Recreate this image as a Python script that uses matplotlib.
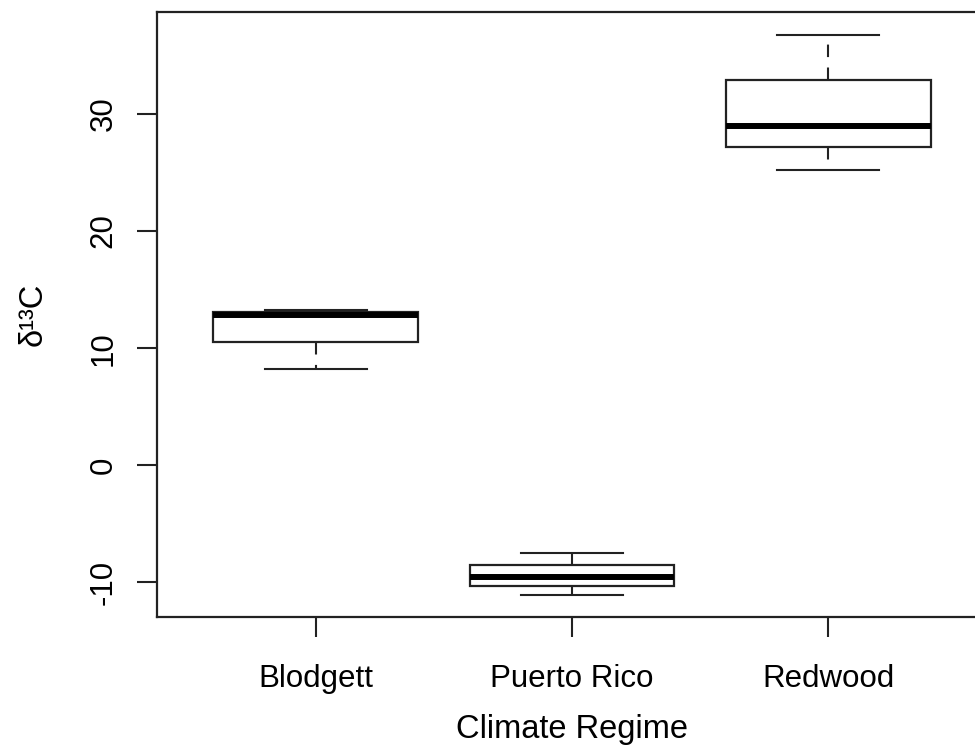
import matplotlib.pyplot as plt

plt.rcParams['font.family'] = ['Liberation Sans', 'DejaVu Sans']
plt.rcParams['axes.unicode_minus'] = False

regimes = ['Blodgett', 'Puerto Rico', 'Redwood']
whislo = [8.2, -11.05, 25.2]
q1 = [10.5, -10.3, 27.15]
med = [12.85, -9.5, 29.0]
q3 = [13.05, -8.5, 32.9]
whishi = [13.25, -7.5, 36.75]
yticks = [-10, 0, 10, 20, 30]

stats = []
for i in range(len(regimes)):
    stats.append({'label': regimes[i], 'whislo': whislo[i], 'q1': q1[i],
                  'med': med[i], 'q3': q3[i], 'whishi': whishi[i], 'fliers': []})

fig = plt.figure(figsize=(9.75, 7.46), dpi=100)
ax = fig.add_axes([157 / 975, 1 - 617 / 746, 830 / 975, 605 / 746])

lc = '#222222'
ax.bxp(stats, positions=[1, 2, 3], widths=0.8, capwidths=0.4,
       showfliers=False, patch_artist=True,
       boxprops=dict(facecolor='white', edgecolor=lc, linewidth=1.6),
       medianprops=dict(color='black', linewidth=4.3, solid_capstyle='butt'),
       whiskerprops=dict(color=lc, linewidth=1.5, linestyle=(0, (6, 5))),
       capprops=dict(color=lc, linewidth=1.5))

ax.set_xlim(0.38, 3.62)
ax.set_ylim(-12.95, 38.7)
ax.set_yticks(yticks)

for s in ax.spines.values():
    s.set_linewidth(1.6)
    s.set_color(lc)

ax.tick_params(axis='both', length=14.5, width=1.5, color=lc, labelsize=22.5)
ax.tick_params(axis='x', pad=19)
ax.tick_params(axis='y', pad=13, labelrotation=90)
for t in ax.get_yticklabels():
    t.set_verticalalignment('center')

ax.set_xlabel('Climate Regime', fontsize=23.5, labelpad=15)
ax.set_ylabel('δ¹³C', fontsize=23.5)
ax.yaxis.set_label_coords(-0.13, 0.5)

fig.savefig('out.png', dpi=100)
